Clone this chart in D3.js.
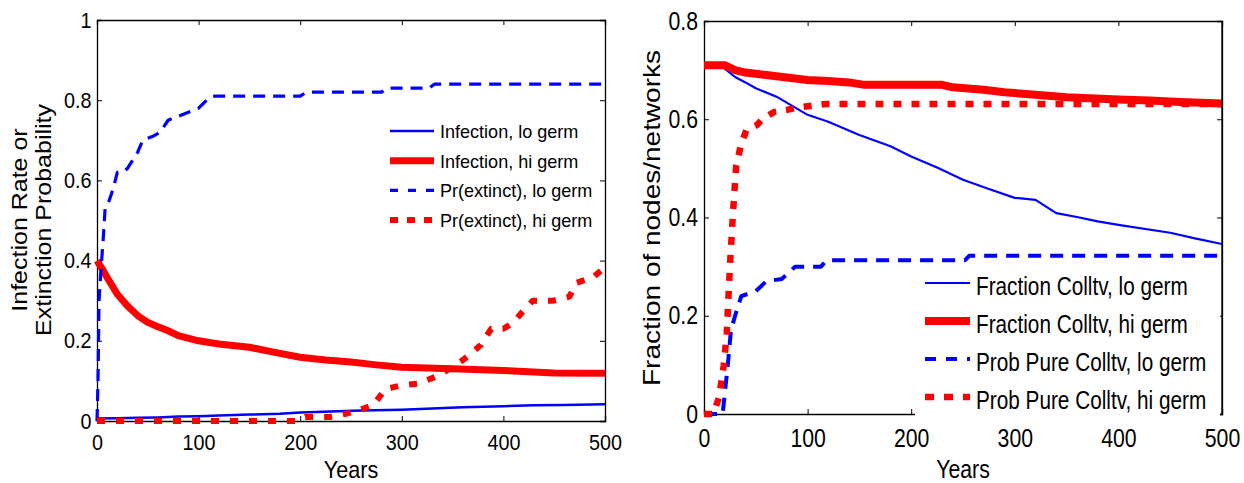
<!DOCTYPE html>
<html>
<head>
<meta charset="utf-8">
<script src="https://cdn.jsdelivr.net/npm/d3@7"></script>
<style>
  body { margin: 0; background: #fff; }
  svg { display: block; font-family: "Liberation Sans", Arial, sans-serif; }
</style>
</head>
<body>
<svg id="chart" width="1244" height="483"></svg>
<script>
// ---- data: [year, value] ----
var infectionLo = [[0,0.006],[20,0.007],[40,0.008],[60,0.009],[80,0.011],[100,0.012],[120,0.014],
  [150,0.016],[180,0.018],[200,0.021],[230,0.024],[260,0.026],[300,0.028],[330,0.031],[360,0.034],
  [400,0.037],[430,0.039],[460,0.040],[500,0.042]];
var infectionHi = [[0,0.40],[5,0.38],[10,0.358],[20,0.316],[30,0.287],[40,0.263],[50,0.246],[60,0.235],
  [70,0.225],[80,0.213],[100,0.200],[120,0.192],[150,0.184],[175,0.171],[200,0.159],[225,0.152],
  [250,0.147],[275,0.140],[300,0.134],[350,0.130],[400,0.126],[450,0.120],[500,0.119]];
var extinctLo = [[0,0],[1,0.1],[2,0.3],[4,0.38],[6,0.45],[8,0.53],[12,0.55],[16,0.58],[20,0.62],
  [25,0.62],[30,0.63],[35,0.65],[40,0.67],[45,0.70],[55,0.71],[62,0.72],[70,0.75],[80,0.76],
  [90,0.77],[100,0.78],[108,0.80],[114,0.81],[200,0.81],[206,0.82],[280,0.82],[285,0.83],
  [327,0.83],[332,0.84],[500,0.84]];
var extinctHi = [[0,0],[196,0],[205,0.01],[229,0.01],[245,0.018],[261,0.03],[272,0.04],[284,0.08],
  [300,0.089],[316,0.093],[333,0.11],[347,0.13],[359,0.15],[369,0.17],[378,0.19],[388,0.23],
  [400,0.23],[410,0.246],[418,0.27],[429,0.30],[449,0.30],[465,0.31],[472,0.345],[488,0.358],[500,0.383]];

var fractionLo = [[0,0.71],[15,0.71],[20,0.703],[30,0.686],[40,0.675],[50,0.663],[70,0.646],
  [100,0.609],[120,0.595],[150,0.568],[180,0.545],[200,0.524],[225,0.502],[250,0.477],[275,0.458],
  [300,0.440],[320,0.436],[340,0.409],[360,0.401],[380,0.392],[400,0.385],[450,0.369],[475,0.357],[500,0.346]];
var fractionHi = [[0,0.71],[20,0.71],[25,0.705],[30,0.70],[40,0.695],[60,0.69],[80,0.685],[100,0.68],
  [120,0.678],[140,0.675],[155,0.67],[230,0.67],[240,0.665],[270,0.66],[290,0.655],[320,0.65],
  [350,0.645],[400,0.64],[430,0.638],[460,0.635],[500,0.632]];
var pureLo = [[0,0],[18,0],[20,0.04],[23,0.1],[26,0.17],[30,0.2],[36,0.24],[50,0.25],[60,0.27],
  [75,0.275],[83,0.29],[88,0.30],[113,0.30],[118,0.313],[252,0.313],[256,0.322],[500,0.322]];
var pureHi = [[0,0],[9,0],[14.5,0.034],[19,0.098],[22,0.166],[25,0.30],[28,0.41],[31,0.504],
  [36,0.551],[41,0.578],[51,0.588],[57,0.602],[68,0.615],[80,0.619],[91,0.624],[118,0.631],[500,0.631]];

var xTicks = [0, 100, 200, 300, 400, 500];
var leftYTicks = [0, 0.2, 0.4, 0.6, 0.8, 1];
var rightYTicks = [0, 0.2, 0.4, 0.6, 0.8];
var leftNames = ["Infection, lo germ", "Infection, hi germ", "Pr(extinct), lo germ", "Pr(extinct), hi germ"];
var rightNames = ["Fraction Colltv, lo germ", "Fraction Colltv, hi germ", "Prob Pure Colltv, lo germ", "Prob Pure Colltv, hi germ"];

var svg = d3.select("#chart");

// text squeezed sideways like the source image
function label(g, x, y, txt, size, anchor, sx, rot) {
  return g.append("text")
    .attr("transform", "translate(" + x + "," + y + ") scale(" + sx + ",1)" + (rot ? " rotate(" + rot + ")" : ""))
    .attr("text-anchor", anchor)
    .attr("font-size", size)
    .attr("fill", "#000")
    .text(txt);
}

function panel(opt) {
  var x = d3.scaleLinear().domain([0, 500]).range([opt.left, opt.right]);
  var y = d3.scaleLinear().domain([0, opt.ymax]).range([opt.bottom, opt.top]);
  var g = svg.append("g");
  var fmt = d3.format("~g");

  var axes = [
    [d3.axisBottom(x).tickValues(xTicks).tickFormat(fmt).tickSize(-5).tickPadding(opt.xpad), "translate(0," + opt.bottom + ")"],
    [d3.axisTop(x).tickValues(xTicks).tickFormat("").tickSize(-5), "translate(0," + opt.top + ")"],
    [d3.axisLeft(y).tickValues(opt.yTicks).tickFormat(fmt).tickSize(-5).tickPadding(opt.ypad), "translate(" + opt.left + ",0)"],
    [d3.axisRight(y).tickValues(opt.yTicks).tickFormat("").tickSize(-5), "translate(" + opt.right + ",0)"]
  ];
  axes.forEach(function(a) {
    var ax = g.append("g").attr("transform", a[1]).call(a[0]);
    ax.select(".domain").attr("stroke", "#000").attr("stroke-width", 1.3);
    ax.selectAll(".tick line").attr("stroke", "#000");
    ax.selectAll("text")
      .attr("font-family", "Liberation Sans, Arial, sans-serif")
      .attr("font-size", opt.tickSize).attr("fill", "#000")
      .attr("transform", "scale(" + opt.sx + ",1)");
  });

  var line = d3.line().x(function(d) { return x(d[0]); }).y(function(d) { return y(d[1]); });
  opt.series.forEach(function(s) {
    g.append("path").datum(s.data)
      .attr("d", line)
      .attr("fill", "none")
      .attr("stroke", s.color)
      .attr("stroke-width", s.width)
      .attr("stroke-dasharray", s.dash || null)
      .attr("stroke-linejoin", "round");
  });

  // legend
  if (opt.legendBox) {
    g.append("rect").attr("x", opt.legendBox[0]).attr("y", opt.legendBox[1])
      .attr("width", opt.legendBox[2]).attr("height", opt.legendBox[3]).attr("fill", "#fff");
  }
  opt.series.forEach(function(s, i) {
    var ly = opt.legY + i * opt.legStep;
    g.append("line")
      .attr("x1", opt.legX).attr("x2", opt.legX + opt.legLen)
      .attr("y1", ly).attr("y2", ly)
      .attr("stroke", s.color).attr("stroke-width", s.width)
      .attr("stroke-dasharray", s.legDash || null);
    label(g, opt.legX + opt.legLen + 6, ly + opt.legBase, opt.names[i], opt.legFont, "start", opt.legSx);
  });

  label(g, (opt.left + opt.right) / 2, opt.xlabY, "Years", opt.xlabFont, "middle", opt.sx);
  return g;
}

var leftG = panel({
  left: 97, right: 605, top: 20, bottom: 421, ymax: 1, yTicks: leftYTicks,
  xpad: 13, ypad: 6, tickSize: 22, sx: 0.9,
  series: [
    {data: infectionLo, color: "#0000ff", width: 2.5},
    {data: infectionHi, color: "#ff0000", width: 7},
    {data: extinctLo, color: "#0000ff", width: 3.2, dash: "12,8", legDash: "8,10"},
    {data: extinctHi, color: "#ff0000", width: 6, dash: "8,11", legDash: "8,9"}
  ],
  names: leftNames, legX: 390, legLen: 44, legY: 131, legStep: 29.7, legBase: 7,
  legFont: 19, legSx: 0.95, xlabY: 478, xlabFont: 24
});
label(leftG, 27, 220, "Infection Rate or", 25, "middle", 0.85, -90);
label(leftG, 51, 220, "Extinction Probability", 25, "middle", 0.85, -90);

var rightG = panel({
  left: 704, right: 1222, top: 21, bottom: 414, ymax: 0.8, yTicks: rightYTicks,
  xpad: 15, ypad: 7, tickSize: 25, sx: 0.85,
  series: [
    {data: fractionLo, color: "#0000ff", width: 2.2},
    {data: fractionHi, color: "#ff0000", width: 8},
    {data: pureLo, color: "#0000ff", width: 4, dash: "13,9", legDash: "11,10"},
    {data: pureHi, color: "#ff0000", width: 6.5, dash: "8,10", legDash: "9,10"}
  ],
  names: rightNames, legendBox: [915, 263, 305, 155],
  legX: 925, legLen: 45, legY: 283, legStep: 38, legBase: 12,
  legFont: 25, legSx: 0.83, xlabY: 478, xlabFont: 25
});
// right border stays visible over the legend box
rightG.append("line").attr("x1", 1222).attr("x2", 1222).attr("y1", 21).attr("y2", 414)
  .attr("stroke", "#000").attr("stroke-width", 1.3);
label(rightG, 660, 218, "Fraction of nodes/networks", 28, "middle", 0.85, -90);
</script>
</body>
</html>
